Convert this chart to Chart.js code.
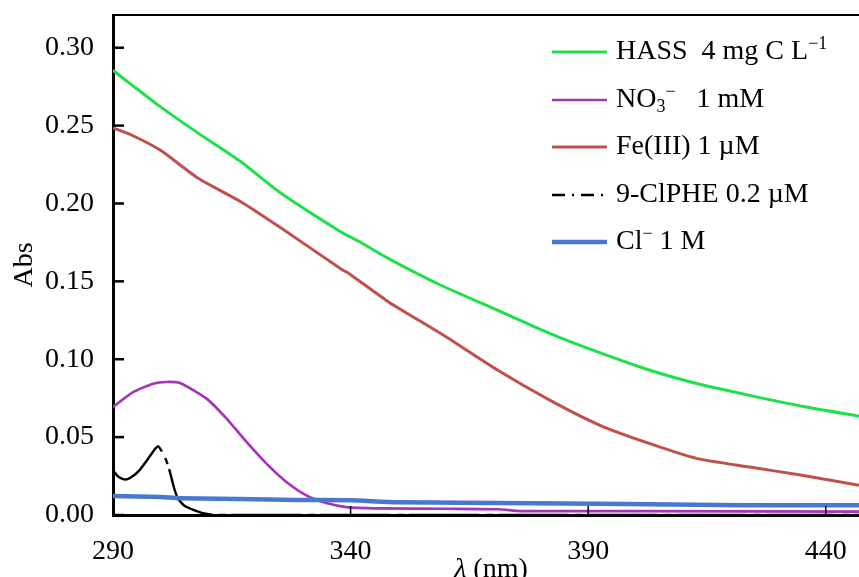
<!DOCTYPE html>
<html>
<head>
<meta charset="utf-8">
<script src="https://cdn.jsdelivr.net/npm/chart.js@4.4.1/dist/chart.umd.min.js"></script>
<style>
  html, body { margin: 0; padding: 0; background: #fff; }
  #wrap { width: 859px; height: 577px; }
</style>
</head>
<body>
<div id="wrap"><canvas id="chart" width="859" height="577"></canvas></div>
<script>
// wavelengths (nm) and absorbance
const hassNm  = [290, 294, 300, 308, 317, 325, 338, 342, 348, 359, 371, 382, 392, 403, 413, 424, 435, 447];
const hassAbs = [0.2855, 0.276, 0.262, 0.245, 0.2266, 0.2074, 0.1817, 0.1753, 0.1646, 0.1475, 0.1314, 0.1165, 0.1047, 0.0929, 0.0843, 0.0768, 0.0698, 0.0634];

const no3Nm  = [290, 294.3, 298.5, 301.3, 304.1, 309.7, 313.9, 318.1, 322.3, 326.5, 330.7, 334.9, 339.1, 346, 360, 371, 376, 400, 447];
const no3Abs = [0.0693, 0.079, 0.0843, 0.0854, 0.0847, 0.0747, 0.0619, 0.0469, 0.033, 0.0212, 0.0126, 0.0077, 0.0051, 0.0043, 0.004, 0.0037, 0.0025, 0.0025, 0.0022];

const feNm  = [290, 294, 300, 308, 317, 325, 338, 340, 348, 359, 371, 382, 392.5, 403, 413, 424, 435, 447];
const feAbs = [0.2485, 0.2438, 0.2341, 0.216, 0.201, 0.185, 0.158, 0.1543, 0.1368, 0.1165, 0.0929, 0.0736, 0.0576, 0.0458, 0.0362, 0.0308, 0.0255, 0.0191];

const clpheNm  = [290, 291, 292, 292.9, 294, 295.5, 297, 298.5, 299.5, 300.5, 301.2, 302, 302.8, 303.5, 304.5, 305.5, 307.6, 309.5, 312, 447];
const clpheAbs = [0.0287, 0.025, 0.0232, 0.0229, 0.0245, 0.0285, 0.0345, 0.041, 0.0441, 0.0396, 0.0351, 0.0274, 0.018, 0.0116, 0.0075, 0.0051, 0.0025, 0.0008, 0, 0];

const clNm  = [290, 300, 304, 329, 340, 350, 392, 423, 447];
const clAbs = [0.0122, 0.0116, 0.0108, 0.0097, 0.0094, 0.0082, 0.0073, 0.0063, 0.0062];

const xTicks = [290, 340, 390, 440];
const yTicks = [0, 0.05, 0.10, 0.15, 0.20, 0.25, 0.30];

// legend text pieces: [text, 'sup' | 'sub' | '']
const legendLabels = [
  [['HASS  4 mg C L', ''], ['\u22121', 'sup']],
  [['NO', ''], ['3', 'sub'], ['\u2212', 'sup'], ['   1 mM', '']],
  [['Fe(III) 1 \u00b5M', '']],
  [['9-ClPHE 0.2 \u00b5M', '']],
  [['Cl', ''], ['\u2212', 'sup'], [' 1 M', '']]
];

const FONT = '"Liberation Serif", "Times New Roman", serif';

function pts(xs, ys) {
  return xs.map((x, i) => ({ x: x, y: ys[i] }));
}

const axisDeco = {
  id: 'axisDeco',
  afterDraw(chart) {
    const ctx = chart.ctx;
    const area = chart.chartArea;
    const xs = chart.scales.x, ys = chart.scales.y;
    ctx.save();
    // top frame line
    ctx.strokeStyle = '#000';
    ctx.lineWidth = 2;
    ctx.beginPath();
    ctx.moveTo(area.left, area.top);
    ctx.lineTo(chart.width, area.top);
    ctx.stroke();
    // inward ticks
    ctx.lineWidth = 2.5;
    yTicks.forEach(v => {
      const y = ys.getPixelForValue(v);
      ctx.beginPath();
      ctx.moveTo(area.left, y);
      ctx.lineTo(area.left + 11, y);
      ctx.stroke();
    });
    ctx.lineWidth = 1.5;
    xTicks.slice(1).forEach(v => {
      const x = xs.getPixelForValue(v);
      ctx.beginPath();
      ctx.moveTo(x, area.bottom);
      ctx.lineTo(x, area.bottom - 9);
      ctx.stroke();
    });
    // x title with italic lambda
    ctx.fillStyle = '#000';
    ctx.textBaseline = 'alphabetic';
    ctx.font = 'italic 28px ' + FONT;
    const w1 = ctx.measureText('\u03bb').width;
    ctx.font = '28px ' + FONT;
    const w2 = ctx.measureText(' (nm)').width;
    const x0 = 491 - (w1 + w2) / 2;
    ctx.font = 'italic 28px ' + FONT;
    ctx.fillText('\u03bb', x0, 577);
    ctx.font = '28px ' + FONT;
    ctx.fillText(' (nm)', x0 + w1, 577);

    // legend
    const rows = [52, 100, 147, 195, 242];
    chart.data.datasets.forEach((ds, i) => {
      const y = rows[i];
      ctx.strokeStyle = ds.borderColor;
      ctx.lineWidth = ds.borderWidth;
      ctx.setLineDash(ds.legendDash || []);
      ctx.beginPath();
      ctx.moveTo(552, y);
      ctx.lineTo(607, y);
      ctx.stroke();
      ctx.setLineDash([]);
      let x = 616;
      ctx.textBaseline = 'middle';
      legendLabels[i].forEach(([txt, kind]) => {
        let dy = 0;
        if (kind === 'sup') { ctx.font = '18px ' + FONT; dy = -8; }
        else if (kind === 'sub') { ctx.font = '18px ' + FONT; dy = 7; }
        else { ctx.font = '28px ' + FONT; }
        ctx.fillText(txt, x, y + dy);
        x += ctx.measureText(txt).width;
      });
    });
    ctx.restore();
  }
};

new Chart(document.getElementById('chart'), {
  type: 'line',
  data: {
    datasets: [
      { label: 'HASS 4 mg C L-1', data: pts(hassNm, hassAbs), borderColor: '#1FE048', borderWidth: 3, order: 4 },
      { label: 'NO3- 1 mM', data: pts(no3Nm, no3Abs), borderColor: '#A634B6', borderWidth: 2.7, order: 3 },
      { label: 'Fe(III) 1 uM', data: pts(feNm, feAbs), borderColor: '#C0504D', borderWidth: 3, order: 2 },
      { label: '9-ClPHE 0.2 uM', data: pts(clpheNm, clpheAbs), borderColor: '#000000', borderWidth: 2.4,
        borderDash: [70, 7, 7, 5], legendDash: [13, 7, 2, 7], order: 1 },
      { label: 'Cl- 1 M', data: pts(clNm, clAbs), borderColor: '#4A78D0', borderWidth: 4.5, order: 0 }
    ]
  },
  options: {
    responsive: false,
    animation: false,
    devicePixelRatio: 1,
    layout: { padding: { top: 15, left: 0, right: 0, bottom: 0 } },
    elements: { point: { radius: 0 }, line: { tension: 0.2, fill: false } },
    plugins: {
      legend: { display: false },
      tooltip: { enabled: false }
    },
    scales: {
      x: {
        type: 'linear',
        min: 290,
        max: 447,
        afterBuildTicks: s => { s.ticks = xTicks.map(v => ({ value: v })); },
        afterFit: s => { s.height = 62; s.paddingLeft = 0; s.paddingRight = 0; },
        grid: { display: false, drawTicks: false },
        border: { display: true, color: '#000', width: 3 },
        ticks: { color: '#000', font: { family: FONT, size: 28 }, padding: 20, maxRotation: 0,
                 callback: v => String(v) }
      },
      y: {
        min: 0,
        max: 0.321,
        afterBuildTicks: s => { s.ticks = yTicks.map(v => ({ value: v })); },
        afterFit: s => { s.width = 113; s.paddingTop = 0; s.paddingBottom = 0; },
        grid: { display: false, drawTicks: false },
        border: { display: true, color: '#000', width: 3 },
        ticks: { color: '#000', font: { family: FONT, size: 28 }, padding: 19,
                 callback: v => v.toFixed(2) },
        title: { display: true, text: 'Abs', color: '#000', font: { family: FONT, size: 28 },
                 padding: { top: 8, bottom: 0 } }
      }
    }
  },
  plugins: [axisDeco]
});
</script>
</body>
</html>
